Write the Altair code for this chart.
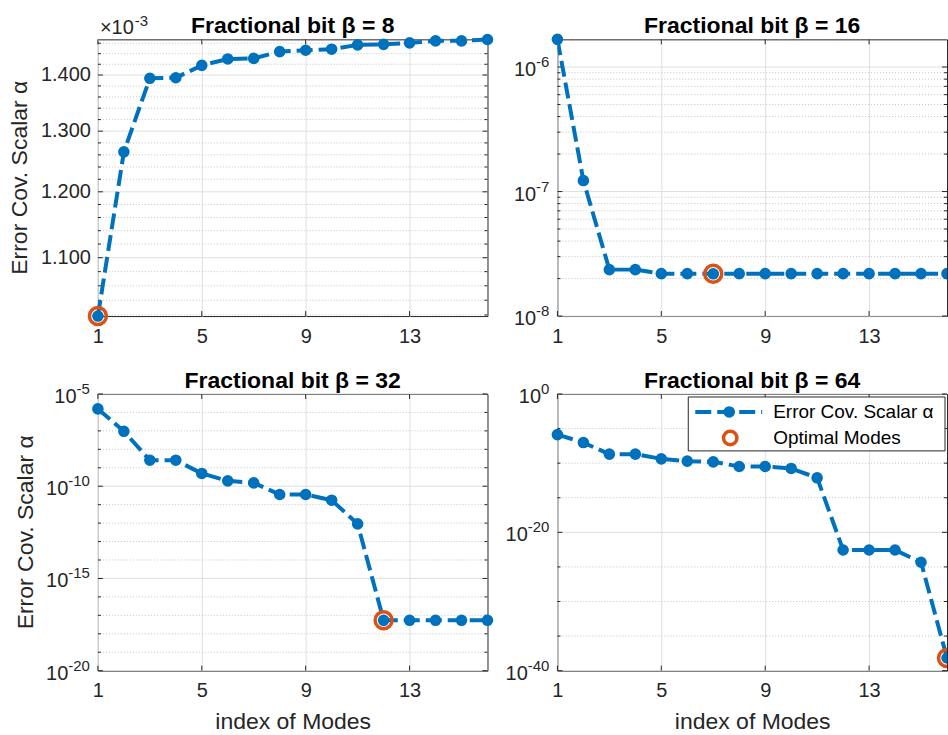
import altair as alt
import pandas as pd

# Mode indices shared by all four panels
modes = list(range(1, 17))

# Error covariance scalar alpha per fractional bit width
alpha_b8 = [1.0185e-3, 1.265e-3, 1.394e-3, 1.395e-3, 1.418e-3, 1.430e-3, 1.431e-3, 1.444e-3,
            1.4465e-3, 1.4485e-3, 1.4568e-3, 1.4578e-3, 1.4607e-3, 1.4646e-3, 1.4646e-3, 1.4672e-3]
alpha_b16 = [1.669e-6, 1.226e-7, 2.36e-8, 2.36e-8, 2.19e-8, 2.19e-8, 2.185e-8, 2.19e-8,
             2.19e-8, 2.19e-8, 2.19e-8, 2.19e-8, 2.19e-8, 2.19e-8, 2.19e-8, 2.19e-8]
alpha_b32 = [1.55e-6, 9.5e-8, 2.57e-9, 2.57e-9, 4.9e-10, 1.95e-10, 1.51e-10, 3.55e-11,
             3.55e-11, 1.74e-11, 9.1e-13, 5.37e-18, 5.4e-18, 5.4e-18, 5.4e-18, 5.4e-18]
alpha_b64 = [1.35e-6, 9.5e-8, 2.0e-9, 2.0e-9, 4.2e-10, 1.95e-10, 1.55e-10, 3.3e-11,
             3.3e-11, 1.7e-11, 7.6e-13, 2.8e-23, 2.8e-23, 2.8e-23, 4.7e-25, 6.8e-39]

# Optimal number of modes for each bit width
optimal_modes = {8: 1, 16: 7, 32: 12, 64: 16}

x_ticks = [1, 5, 9, 13]
y_title = "Error Cov. Scalar α"
x_title = "index of Modes"
legend_labels = ["Error Cov. Scalar α", "Optimal Modes"]

BLUE = "#0072BD"
ORANGE = "#D95319"
AXIS_COLOR = "#262626"
GRID = "#dfdfdf"
FONT = "Liberation Sans"
W, H = 390, 277
LAST = modes[-1]
ONE = pd.DataFrame({"k": [0]})


def decade_minors(lo, hi, step=1, skip_every=None):
    out = []
    for e in range(lo, hi + 1, step):
        if skip_every and e % skip_every == 0:
            continue
        out.append(10.0 ** e)
    return out


def anchor(x, y):
    # invisible sliver that fixes the outer extent of the figure
    return alt.Chart(ONE).mark_rect(opacity=0).encode(
        x=alt.value(x), x2=alt.value(x + 0.5), y=alt.value(y), y2=alt.value(y + 1))


def text_at(txt, x, y, size, **kw):
    props = dict(font=FONT, fontSize=size, color=AXIS_COLOR, baseline="alphabetic",
                 align="left")
    props.update(kw)
    return alt.Chart(ONE).mark_text(**props).encode(
        x=alt.value(x), y=alt.value(y), text=alt.value(txt))


def panel(beta, values, domain, majors, minors, exps=None, left=False, bottom=False,
          title_x=-71, legend=False, extra=()):
    df = pd.DataFrame({"mode": modes, "alpha": values})
    xscale = alt.Scale(domain=[1, 16], nice=False, zero=False)
    yscale = alt.Scale(type="log", domain=domain, nice=False)
    clip_right = not left

    x_kw = dict(values=x_ticks, grid=True, ticks=False, domain=False,
                labelFontSize=20, labelPadding=10, labelFlush=False, title=None)
    if bottom:
        x_kw.update(title=x_title, titleFontSize=23, titleFontWeight="normal",
                    titleBaseline="alphabetic", titleX=W / 2, titleY=58, titleAlign="center")
    x_enc = alt.X("mode:Q", scale=xscale, axis=alt.Axis(**x_kw))

    # horizontal grid: dotted minor lines below solid major lines
    minor_df = pd.DataFrame({"v": minors})
    tick_df = pd.DataFrame({"v": majors})
    y_tick = alt.Y("v:Q", scale=yscale, axis=None)
    minor_grid = alt.Chart(minor_df).mark_rule(
        color="#c4c4c4", strokeDash=[1, 2], strokeWidth=1).encode(y=y_tick)
    major_grid = alt.Chart(tick_df).mark_rule(color=GRID, strokeWidth=1).encode(y=y_tick)

    # inward tick marks on all four sides of the box
    xt = alt.Chart(pd.DataFrame({"mode": x_ticks})).mark_rule(color=AXIS_COLOR, strokeWidth=1)
    ticks = [
        xt.encode(x=x_enc, y=alt.value(H - 5), y2=alt.value(H)),
        xt.encode(x=x_enc, y=alt.value(0), y2=alt.value(5)),
    ]
    for frame, length in ((tick_df, 5), (minor_df, 3)):
        yt = alt.Chart(frame).mark_rule(color=AXIS_COLOR, strokeWidth=1)
        ticks += [
            yt.encode(y=y_tick, x=alt.value(0), x2=alt.value(length)),
            yt.encode(y=y_tick, x=alt.value(W - length), x2=alt.value(W)),
        ]

    base = alt.Chart(df).encode(x=x_enc, y=alt.Y("alpha:Q", scale=yscale, axis=None))
    line = base.mark_line(color=BLUE, strokeWidth=4, strokeDash=[16, 6], clip=clip_right)
    dots = base.mark_circle(size=135, color=BLUE, opacity=1).transform_filter(
        alt.datum.mode < LAST)
    dots_last = base.mark_circle(size=135, color=BLUE, opacity=1,
                                 clip=clip_right).transform_filter(alt.datum.mode == LAST)
    ring = base.mark_point(shape="circle", filled=False, color=ORANGE, strokeWidth=3.5,
                           size=289, opacity=1, clip=clip_right).transform_filter(
        alt.datum.mode == optimal_modes[beta])

    layers = [minor_grid, major_grid] + ticks + [line, dots, dots_last, ring]

    if exps is not None:
        # "10" with a raised exponent, right-aligned against the axis
        exp_df = pd.DataFrame({"v": majors, "e": exps})
        pos = ("-8 - 15 * (0.556 * length(replace(datum.e, '-', '')) + "
               "(indexof(datum.e, '-') >= 0 ? 0.333 : 0))")
        tens = alt.Chart(exp_df).transform_calculate(xp=pos).mark_text(
            align="right", baseline="middle", fontSize=20, font=FONT, color=AXIS_COLOR, dy=3
        ).encode(y=y_tick, x=alt.X("xp:Q", scale=None, axis=None), text=alt.value("10"))
        sup = alt.Chart(exp_df).transform_calculate(xp=pos).mark_text(
            align="left", baseline="middle", fontSize=15, font=FONT, color=AXIS_COLOR, dy=-5
        ).encode(y=y_tick, x=alt.X("xp:Q", scale=None, axis=None), text="e:N")
        layers += [tens, sup]
    else:
        labels = alt.Chart(tick_df).transform_calculate(
            lab="format(datum.v * 1000, '.3f')"
        ).mark_text(align="right", baseline="middle", fontSize=20, font=FONT,
                    color=AXIS_COLOR).encode(y=y_tick, x=alt.value(-7), text="lab:N")
        layers += [labels, text_at("×10", 2, -5, 20), text_at("-3", 37, -13, 15)]

    if left:
        layers.append(text_at(y_title, title_x, H / 2, 23, angle=270, align="center"))

    layers.append(text_at(f"Fractional bit β = {beta}", W / 2, -6, 23, align="center",
                          fontWeight="bold", color="black"))

    if legend:
        box = alt.Chart(ONE).mark_rect(fill="white", stroke=AXIS_COLOR, strokeWidth=1).encode(
            x=alt.value(131), x2=alt.value(388), y=alt.value(3), y2=alt.value(57))
        s_line = alt.Chart(ONE).mark_rule(color=BLUE, strokeWidth=4, strokeDash=[16, 6]).encode(
            x=alt.value(138), x2=alt.value(205), y=alt.value(18))
        s_dot = alt.Chart(ONE).mark_circle(size=135, color=BLUE, opacity=1).encode(
            x=alt.value(172), y=alt.value(18))
        s_ring = alt.Chart(ONE).mark_point(shape="circle", filled=False, color=ORANGE,
                                           strokeWidth=3.5, size=180, opacity=1).encode(
            x=alt.value(173), y=alt.value(44))
        t1 = text_at(legend_labels[0], 216, 18, 19, baseline="middle", color="black")
        t2 = text_at(legend_labels[1], 216, 44, 19, baseline="middle", color="black")
        layers += [box, s_line, s_dot, s_ring, t1, t2]

    layers += list(extra)

    return alt.layer(*layers).properties(width=W, height=H)


p8 = panel(8, alpha_b8, [1.0185e-3, 1.4675e-3],
           [1.1e-3, 1.2e-3, 1.3e-3, 1.4e-3],
           [v * 1e-3 for v in [1.02, 1.04, 1.06, 1.08, 1.12, 1.14, 1.16, 1.18, 1.22, 1.24,
                               1.26, 1.28, 1.32, 1.34, 1.36, 1.38, 1.42, 1.44, 1.46]],
           left=True, title_x=-71, extra=[anchor(-97.5, -38)])
p16 = panel(16, alpha_b16, [1e-8, 1.669e-6], [1e-8, 1e-7, 1e-6],
            [m * 10.0 ** e for e in (-8, -7) for m in range(2, 10)],
            exps=["-8", "-7", "-6"])
p32 = panel(32, alpha_b32, [1e-20, 1e-5], [1e-20, 1e-15, 1e-10, 1e-5],
            decade_minors(-19, -6, 1, skip_every=5),
            exps=["-20", "-15", "-10", "-5"], left=True, bottom=True, title_x=-65,
            extra=[anchor(-97.5, H + 64)])
p64 = panel(64, alpha_b64, [1e-40, 1.0], [1e-40, 1e-20, 1.0],
            decade_minors(-35, -5, 5, skip_every=20),
            exps=["-40", "-20", "0"], bottom=True, legend=True)

chart = alt.concat(
    p8, p16, p32, p64, columns=2, bounds="flush", spacing={"row": 78, "column": 70}
).properties(
    padding=0,
    background="white",
).configure_view(
    stroke=AXIS_COLOR, strokeWidth=1
).configure_axis(
    gridColor=GRID, gridWidth=1, labelColor=AXIS_COLOR, titleColor=AXIS_COLOR,
    labelFont=FONT, titleFont=FONT
)

chart.save("out.html", embed_options={"renderer": "svg", "actions": False})
